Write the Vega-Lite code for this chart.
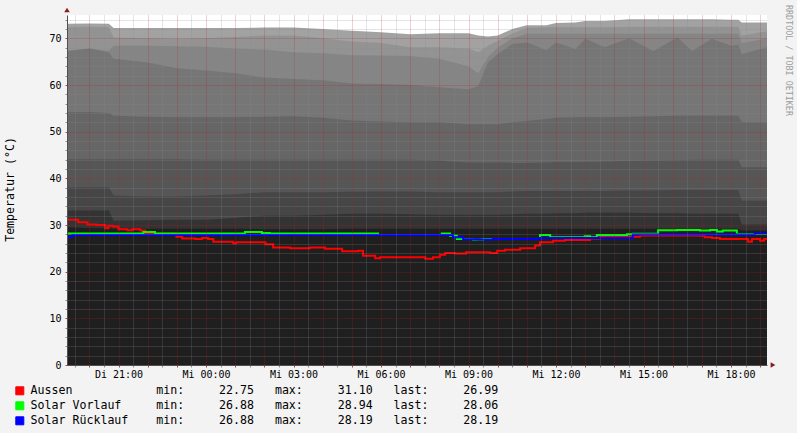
{
  "$schema": "https://vega.github.io/schema/vega-lite/v6.json",
  "width": 700,
  "height": 350,
  "autosize": {"type": "none"},
  "padding": {"left": 67, "top": 15, "right": 30, "bottom": 68},
  "background": "#f3f3f3",
  "config": {"view": {"stroke": null, "fill": "#ffffff"}, "font": "DejaVu Sans Mono"},
  "title": {"text": "RRDTOOL / TOBI OETIKER", "orient": "right", "anchor": "start", "frame": "group", "font": "DejaVu Sans Mono", "fontSize": 8.4, "fontWeight": "normal", "color": "#9c9c9c", "offset": 9, "dx": -10},
  "datasets": {
    "bands": [
      {"t": "2013-07-16T19:14", "A": 73.1, "B": 72.4, "C": 67.3, "D": 67.3, "E": 54.2, "F": 44.1, "G": 38.1, "H": 33.1, "I": 29.5},
      {"t": "2013-07-16T20:00", "A": 73.2, "B": 72.5, "C": 67.8, "D": 67.8, "E": 54.2, "F": 44.1, "G": 38.1, "H": 33.1, "I": 29.3},
      {"t": "2013-07-16T20:40", "A": 73.1, "B": 72.4, "C": 67.3, "D": 67.0, "E": 54.0, "F": 44.1, "G": 38.1, "H": 33.1, "I": 29.3},
      {"t": "2013-07-16T20:50", "A": 72.2, "B": 70.2, "C": 68.4, "D": 65.6, "E": 53.4, "F": 44.1, "G": 36.3, "H": 30.9, "I": 29.2},
      {"t": "2013-07-16T22:00", "A": 72.2, "B": 70.0, "C": 68.4, "D": 64.8, "E": 53.2, "F": 44.1, "G": 36.1, "H": 31.0, "I": 29.2},
      {"t": "2013-07-16T23:00", "A": 72.2, "B": 69.9, "C": 68.3, "D": 63.6, "E": 53.1, "F": 44.1, "G": 36.1, "H": 31.1, "I": 29.2},
      {"t": "2013-07-17T00:00", "A": 72.2, "B": 70.0, "C": 68.2, "D": 63.1, "E": 53.1, "F": 44.0, "G": 36.3, "H": 31.1, "I": 29.2},
      {"t": "2013-07-17T01:00", "A": 72.2, "B": 70.3, "C": 67.8, "D": 62.5, "E": 53.1, "F": 44.0, "G": 36.6, "H": 31.5, "I": 29.2},
      {"t": "2013-07-17T02:00", "A": 72.3, "B": 70.6, "C": 67.6, "D": 61.6, "E": 53.2, "F": 44.0, "G": 37.0, "H": 32.0, "I": 29.1},
      {"t": "2013-07-17T03:00", "A": 72.3, "B": 70.6, "C": 67.0, "D": 61.3, "E": 53.3, "F": 44.0, "G": 37.0, "H": 32.0, "I": 29.1},
      {"t": "2013-07-17T04:00", "A": 72.0, "B": 70.0, "C": 66.8, "D": 61.0, "E": 53.0, "F": 44.0, "G": 37.0, "H": 32.2, "I": 29.1},
      {"t": "2013-07-17T05:00", "A": 71.6, "B": 69.3, "C": 66.4, "D": 60.3, "E": 52.4, "F": 44.0, "G": 37.1, "H": 32.4, "I": 29.2},
      {"t": "2013-07-17T06:00", "A": 71.3, "B": 69.0, "C": 66.3, "D": 60.2, "E": 52.2, "F": 44.0, "G": 37.2, "H": 32.4, "I": 29.2},
      {"t": "2013-07-17T07:00", "A": 70.9, "B": 68.1, "C": 66.2, "D": 60.0, "E": 52.0, "F": 44.0, "G": 37.2, "H": 32.3, "I": 29.2},
      {"t": "2013-07-17T08:00", "A": 71.1, "B": 68.1, "C": 65.6, "D": 59.5, "E": 52.0, "F": 43.8, "G": 37.0, "H": 32.2, "I": 29.2},
      {"t": "2013-07-17T09:00", "A": 71.1, "B": 67.8, "C": 64.0, "D": 59.1, "E": 51.6, "F": 43.4, "G": 37.0, "H": 32.2, "I": 29.2},
      {"t": "2013-07-17T09:20", "A": 70.6, "B": 67.0, "C": 62.5, "D": 59.8, "E": 51.6, "F": 43.4, "G": 37.0, "H": 32.2, "I": 29.2},
      {"t": "2013-07-17T09:40", "A": 70.4, "B": 68.4, "C": 66.0, "D": 64.8, "E": 51.6, "F": 43.4, "G": 37.0, "H": 32.2, "I": 29.2},
      {"t": "2013-07-17T10:00", "A": 70.6, "B": 69.5, "C": 68.0, "D": 66.6, "E": 51.6, "F": 43.4, "G": 37.0, "H": 32.2, "I": 29.2},
      {"t": "2013-07-17T10:30", "A": 72.0, "B": 71.0, "C": 70.0, "D": 68.8, "E": 52.0, "F": 43.3, "G": 37.2, "H": 32.3, "I": 29.2},
      {"t": "2013-07-17T11:00", "A": 72.8, "B": 72.2, "C": 71.0, "D": 69.1, "E": 52.3, "F": 43.3, "G": 37.3, "H": 32.4, "I": 29.2},
      {"t": "2013-07-17T11:40", "A": 72.8, "B": 72.4, "C": 71.0, "D": 67.5, "E": 52.7, "F": 43.4, "G": 37.3, "H": 32.4, "I": 29.2},
      {"t": "2013-07-17T12:00", "A": 73.3, "B": 72.4, "C": 71.0, "D": 69.1, "E": 53.0, "F": 43.5, "G": 37.3, "H": 32.5, "I": 29.2},
      {"t": "2013-07-17T12:40", "A": 73.4, "B": 72.4, "C": 71.0, "D": 67.7, "E": 53.1, "F": 43.5, "G": 37.3, "H": 32.5, "I": 29.2},
      {"t": "2013-07-17T13:00", "A": 73.7, "B": 72.4, "C": 71.0, "D": 69.9, "E": 53.1, "F": 43.5, "G": 37.3, "H": 32.6, "I": 29.2},
      {"t": "2013-07-17T13:40", "A": 73.7, "B": 72.4, "C": 71.0, "D": 68.1, "E": 53.1, "F": 43.6, "G": 37.3, "H": 32.6, "I": 29.2},
      {"t": "2013-07-17T14:30", "A": 74.1, "B": 72.5, "C": 71.0, "D": 70.0, "E": 53.2, "F": 43.7, "G": 37.4, "H": 32.6, "I": 29.2},
      {"t": "2013-07-17T15:20", "A": 74.1, "B": 72.5, "C": 71.0, "D": 67.3, "E": 53.3, "F": 43.8, "G": 37.4, "H": 32.5, "I": 29.2},
      {"t": "2013-07-17T16:10", "A": 74.1, "B": 72.5, "C": 71.0, "D": 70.2, "E": 53.4, "F": 43.9, "G": 37.5, "H": 32.5, "I": 29.2},
      {"t": "2013-07-17T16:40", "A": 74.1, "B": 72.5, "C": 71.0, "D": 67.3, "E": 53.4, "F": 44.0, "G": 37.5, "H": 32.4, "I": 29.2},
      {"t": "2013-07-17T17:20", "A": 74.1, "B": 72.5, "C": 71.0, "D": 69.9, "E": 53.4, "F": 44.0, "G": 37.5, "H": 32.4, "I": 29.2},
      {"t": "2013-07-17T18:00", "A": 74.0, "B": 72.5, "C": 71.0, "D": 68.4, "E": 53.4, "F": 44.0, "G": 37.5, "H": 32.4, "I": 29.2},
      {"t": "2013-07-17T18:15", "A": 74.0, "B": 72.5, "C": 71.0, "D": 68.6, "E": 53.4, "F": 44.0, "G": 37.5, "H": 32.4, "I": 29.2},
      {"t": "2013-07-17T18:22", "A": 73.4, "B": 70.6, "C": 69.0, "D": 66.6, "E": 52.0, "F": 42.4, "G": 35.2, "H": 30.1, "I": 28.8},
      {"t": "2013-07-17T19:14", "A": 73.4, "B": 71.5, "C": 70.0, "D": 68.1, "E": 52.0, "F": 42.4, "G": 35.2, "H": 30.1, "I": 28.8}
    ],
    "lines": [
      {"s": "Aussen", "t": "2013-07-16T19:14", "v": 31.1},
      {"s": "Aussen", "t": "2013-07-16T19:37", "v": 30.6},
      {"s": "Aussen", "t": "2013-07-16T19:56", "v": 30.1},
      {"s": "Aussen", "t": "2013-07-16T20:14", "v": 30.0},
      {"s": "Aussen", "t": "2013-07-16T20:33", "v": 29.3},
      {"s": "Aussen", "t": "2013-07-16T20:39", "v": 29.85},
      {"s": "Aussen", "t": "2013-07-16T20:49", "v": 29.7},
      {"s": "Aussen", "t": "2013-07-16T21:00", "v": 29.1},
      {"s": "Aussen", "t": "2013-07-16T21:18", "v": 28.9},
      {"s": "Aussen", "t": "2013-07-16T21:28", "v": 29.1},
      {"s": "Aussen", "t": "2013-07-16T21:45", "v": 28.8},
      {"s": "Aussen", "t": "2013-07-16T21:55", "v": 28.1},
      {"s": "Aussen", "t": "2013-07-16T22:59", "v": 27.5},
      {"s": "Aussen", "t": "2013-07-16T23:11", "v": 27.1},
      {"s": "Aussen", "t": "2013-07-16T23:38", "v": 27.0},
      {"s": "Aussen", "t": "2013-07-16T23:52", "v": 27.2},
      {"s": "Aussen", "t": "2013-07-17T00:04", "v": 27.0},
      {"s": "Aussen", "t": "2013-07-17T00:15", "v": 26.4},
      {"s": "Aussen", "t": "2013-07-17T00:56", "v": 26.1},
      {"s": "Aussen", "t": "2013-07-17T01:02", "v": 26.3},
      {"s": "Aussen", "t": "2013-07-17T02:02", "v": 25.9},
      {"s": "Aussen", "t": "2013-07-17T02:18", "v": 25.2},
      {"s": "Aussen", "t": "2013-07-17T02:53", "v": 25.0},
      {"s": "Aussen", "t": "2013-07-17T03:34", "v": 25.2},
      {"s": "Aussen", "t": "2013-07-17T04:05", "v": 24.9},
      {"s": "Aussen", "t": "2013-07-17T04:40", "v": 24.4},
      {"s": "Aussen", "t": "2013-07-17T05:13", "v": 24.5},
      {"s": "Aussen", "t": "2013-07-17T05:23", "v": 23.4},
      {"s": "Aussen", "t": "2013-07-17T05:48", "v": 22.9},
      {"s": "Aussen", "t": "2013-07-17T05:58", "v": 23.1},
      {"s": "Aussen", "t": "2013-07-17T07:31", "v": 22.75},
      {"s": "Aussen", "t": "2013-07-17T07:47", "v": 23.1},
      {"s": "Aussen", "t": "2013-07-17T08:01", "v": 23.6},
      {"s": "Aussen", "t": "2013-07-17T08:12", "v": 24.0},
      {"s": "Aussen", "t": "2013-07-17T08:32", "v": 23.9},
      {"s": "Aussen", "t": "2013-07-17T08:55", "v": 24.15},
      {"s": "Aussen", "t": "2013-07-17T09:44", "v": 24.0},
      {"s": "Aussen", "t": "2013-07-17T09:59", "v": 24.5},
      {"s": "Aussen", "t": "2013-07-17T10:15", "v": 24.7},
      {"s": "Aussen", "t": "2013-07-17T10:46", "v": 25.0},
      {"s": "Aussen", "t": "2013-07-17T11:17", "v": 25.6},
      {"s": "Aussen", "t": "2013-07-17T11:27", "v": 26.3},
      {"s": "Aussen", "t": "2013-07-17T11:54", "v": 26.6},
      {"s": "Aussen", "t": "2013-07-17T12:18", "v": 26.8},
      {"s": "Aussen", "t": "2013-07-17T13:10", "v": 27.1},
      {"s": "Aussen", "t": "2013-07-17T13:30", "v": 27.5},
      {"s": "Aussen", "t": "2013-07-17T14:53", "v": 27.75},
      {"s": "Aussen", "t": "2013-07-17T16:56", "v": 27.7},
      {"s": "Aussen", "t": "2013-07-17T17:06", "v": 27.4},
      {"s": "Aussen", "t": "2013-07-17T17:21", "v": 27.2},
      {"s": "Aussen", "t": "2013-07-17T17:37", "v": 27.0},
      {"s": "Aussen", "t": "2013-07-17T18:35", "v": 26.4},
      {"s": "Aussen", "t": "2013-07-17T18:43", "v": 27.0},
      {"s": "Aussen", "t": "2013-07-17T19:00", "v": 26.6},
      {"s": "Aussen", "t": "2013-07-17T19:08", "v": 26.99},
      {"s": "Aussen", "t": "2013-07-17T19:14", "v": 26.99},
      {"s": "Solar Vorlauf", "t": "2013-07-16T19:14", "v": 28.2},
      {"s": "Solar Vorlauf", "t": "2013-07-16T21:51", "v": 28.5},
      {"s": "Solar Vorlauf", "t": "2013-07-16T22:15", "v": 28.2},
      {"s": "Solar Vorlauf", "t": "2013-07-17T01:20", "v": 28.5},
      {"s": "Solar Vorlauf", "t": "2013-07-17T01:55", "v": 28.3},
      {"s": "Solar Vorlauf", "t": "2013-07-17T02:11", "v": 28.2},
      {"s": "Solar Vorlauf", "t": "2013-07-17T05:54", "v": 27.85},
      {"s": "Solar Vorlauf", "t": "2013-07-17T08:05", "v": 28.2},
      {"s": "Solar Vorlauf", "t": "2013-07-17T08:22", "v": 27.7},
      {"s": "Solar Vorlauf", "t": "2013-07-17T08:36", "v": 27.0},
      {"s": "Solar Vorlauf", "t": "2013-07-17T09:09", "v": 26.88},
      {"s": "Solar Vorlauf", "t": "2013-07-17T09:30", "v": 27.0},
      {"s": "Solar Vorlauf", "t": "2013-07-17T11:27", "v": 27.85},
      {"s": "Solar Vorlauf", "t": "2013-07-17T11:48", "v": 27.4},
      {"s": "Solar Vorlauf", "t": "2013-07-17T12:59", "v": 27.6},
      {"s": "Solar Vorlauf", "t": "2013-07-17T13:10", "v": 27.4},
      {"s": "Solar Vorlauf", "t": "2013-07-17T13:24", "v": 27.85},
      {"s": "Solar Vorlauf", "t": "2013-07-17T14:26", "v": 28.0},
      {"s": "Solar Vorlauf", "t": "2013-07-17T14:38", "v": 28.1},
      {"s": "Solar Vorlauf", "t": "2013-07-17T15:30", "v": 28.9},
      {"s": "Solar Vorlauf", "t": "2013-07-17T16:09", "v": 28.94},
      {"s": "Solar Vorlauf", "t": "2013-07-17T16:56", "v": 28.8},
      {"s": "Solar Vorlauf", "t": "2013-07-17T17:17", "v": 28.94},
      {"s": "Solar Vorlauf", "t": "2013-07-17T17:31", "v": 28.6},
      {"s": "Solar Vorlauf", "t": "2013-07-17T17:43", "v": 28.8},
      {"s": "Solar Vorlauf", "t": "2013-07-17T18:12", "v": 28.06},
      {"s": "Solar Vorlauf", "t": "2013-07-17T19:14", "v": 28.06},
      {"s": "Solar Rücklauf", "t": "2013-07-16T19:14", "v": 27.5},
      {"s": "Solar Rücklauf", "t": "2013-07-16T19:25", "v": 27.85},
      {"s": "Solar Rücklauf", "t": "2013-07-17T08:28", "v": 27.4},
      {"s": "Solar Rücklauf", "t": "2013-07-17T08:49", "v": 26.95},
      {"s": "Solar Rücklauf", "t": "2013-07-17T09:20", "v": 26.88},
      {"s": "Solar Rücklauf", "t": "2013-07-17T09:50", "v": 27.0},
      {"s": "Solar Rücklauf", "t": "2013-07-17T11:27", "v": 27.2},
      {"s": "Solar Rücklauf", "t": "2013-07-17T14:38", "v": 27.95},
      {"s": "Solar Rücklauf", "t": "2013-07-17T18:49", "v": 28.19},
      {"s": "Solar Rücklauf", "t": "2013-07-17T19:14", "v": 28.19}
    ]
  },
  "layer": [
    {"data": {"name": "bands"}, "mark": {"type": "area", "color": "#a2a2a2", "opacity": 1},
     "encoding": {
      "x": {
      "field": "t",
      "type": "temporal",
      "scale": {"domain": [{"year": 2013, "month": 7, "date": 16, "hours": 19, "minutes": 14}, {"year": 2013, "month": 7, "date": 17, "hours": 19, "minutes": 14}], "nice": false},
      "axis": {
        "title": null,
        "tickCount": 48,
        "labelExpr": "minutes(datum.value) == 0 && hours(datum.value) % 3 == 0 ? (date(datum.value) == 16 ? 'Di ' : 'Mi ') + timeFormat(datum.value, '%H:%M') : ''",
        "labelFont": "DejaVu Sans Mono",
        "labelFontSize": 10,
        "labelColor": "#000000",
        "labelPadding": 2,
        "labelOverlap": false,
        "labelFlush": false,
        "tickSize": 2,
        "tickColor": {"condition": {"test": "minutes(datum.value) == 0", "value": "#c04040"}, "value": "#909090"},
        "gridColor": {"condition": {"test": "minutes(datum.value) == 0", "value": "rgba(180,32,32,0.42)"}, "value": "rgba(140,140,140,0.45)"},
        "gridDash": [1, 1],
        "domainColor": "#505050",
        "zindex": 1
      }},
      "y": {"field": "A", "type": "quantitative", "scale": {"domain": [0, 75], "nice": false},
       "axis": {
         "title": "Temperatur (°C)",
         "tickCount": 40,
         "values": [0, 2, 4, 6, 8, 10, 12, 14, 16, 18, 20, 22, 24, 26, 28, 30, 32, 34, 36, 38, 40, 42, 44, 46, 48, 50, 52, 54, 56, 58, 60, 62, 64, 66, 68, 70, 72, 74],
         "labelExpr": "datum.value % 10 == 0 ? datum.label : ''",
         "labelFont": "DejaVu Sans Mono",
         "labelFontSize": 10,
         "labelColor": "#000000",
         "labelPadding": 4,
         "labelOverlap": false,
         "tickSize": 2,
         "tickColor": {"condition": {"test": "datum.value % 10 == 0", "value": "#c04040"}, "value": "#909090"},
         "gridColor": {"condition": {"test": "datum.value % 10 == 0", "value": "rgba(180,32,32,0.42)"}, "value": "rgba(140,140,140,0.45)"},
         "gridDash": [1, 1],
         "domainColor": "#505050",
         "titleFont": "DejaVu Sans Mono",
         "titleFontSize": 11.6,
         "titleFontWeight": "normal",
         "titleColor": "#000000",
         "titleX": -57,
         "titleY": 174,
         "titleBaseline": "middle",
         "zindex": 1
       }}}},
    {"data": {"name": "bands"}, "mark": {"type": "area", "color": "#939393", "opacity": 1}, "encoding": {"x": {"field": "t", "type": "temporal"}, "y": {"field": "B", "type": "quantitative"}}},
    {"data": {"name": "bands"}, "mark": {"type": "area", "color": "#858585", "opacity": 1}, "encoding": {"x": {"field": "t", "type": "temporal"}, "y": {"field": "C", "type": "quantitative"}}},
    {"data": {"name": "bands"}, "mark": {"type": "area", "color": "#767676", "opacity": 1}, "encoding": {"x": {"field": "t", "type": "temporal"}, "y": {"field": "D", "type": "quantitative"}}},
    {"data": {"name": "bands"}, "mark": {"type": "area", "color": "#666666", "opacity": 1}, "encoding": {"x": {"field": "t", "type": "temporal"}, "y": {"field": "E", "type": "quantitative"}}},
    {"data": {"name": "bands"}, "mark": {"type": "area", "color": "#565656", "opacity": 1}, "encoding": {"x": {"field": "t", "type": "temporal"}, "y": {"field": "F", "type": "quantitative"}}},
    {"data": {"name": "bands"}, "mark": {"type": "area", "color": "#464646", "opacity": 1}, "encoding": {"x": {"field": "t", "type": "temporal"}, "y": {"field": "G", "type": "quantitative"}}},
    {"data": {"name": "bands"}, "mark": {"type": "area", "color": "#333333", "opacity": 1}, "encoding": {"x": {"field": "t", "type": "temporal"}, "y": {"field": "H", "type": "quantitative"}}},
    {"data": {"name": "bands"}, "mark": {"type": "area", "color": "#1f1f1f", "opacity": 1}, "encoding": {"x": {"field": "t", "type": "temporal"}, "y": {"field": "I", "type": "quantitative"}}},
    {"data": {"name": "lines"}, "transform": [{"filter": "datum.s == 'Aussen'"}],
     "mark": {"type": "line", "interpolate": "step-after", "strokeWidth": 2},
     "encoding": {
       "x": {"field": "t", "type": "temporal"},
       "y": {"field": "v", "type": "quantitative"},
       "color": {"field": "s", "type": "nominal",
         "scale": {"domain": ["Aussen", "Solar Vorlauf", "Solar Rücklauf"], "range": ["#ff0000", "#00ff00", "#0000ff"]},
         "legend": {
           "orient": "none", "legendX": -53, "legendY": 370, "title": null, "padding": 0, "direction": "vertical",
           "symbolType": "square", "symbolSize": 64, "symbolStrokeColor": "#000000", "symbolStrokeWidth": 1,
           "labelFont": "DejaVu Sans Mono", "labelFontSize": 11.6, "labelColor": "#000000", "labelOffset": 5, "labelLimit": 800, "rowPadding": 2,
           "labelExpr": "datum.label == 'Aussen' ? 'Aussen\u00a0\u00a0\u00a0\u00a0\u00a0\u00a0\u00a0\u00a0\u00a0\u00a0\u00a0\u00a0min:\u00a0\u00a0\u00a0\u00a0\u00a022.75\u00a0\u00a0\u00a0max:\u00a0\u00a0\u00a0\u00a0\u00a031.10\u00a0\u00a0\u00a0last:\u00a0\u00a0\u00a0\u00a0\u00a026.99' : datum.label == 'Solar Vorlauf' ? 'Solar\u00a0Vorlauf\u00a0\u00a0\u00a0\u00a0\u00a0min:\u00a0\u00a0\u00a0\u00a0\u00a026.88\u00a0\u00a0\u00a0max:\u00a0\u00a0\u00a0\u00a0\u00a028.94\u00a0\u00a0\u00a0last:\u00a0\u00a0\u00a0\u00a0\u00a028.06' : 'Solar\u00a0Rücklauf\u00a0\u00a0\u00a0\u00a0min:\u00a0\u00a0\u00a0\u00a0\u00a026.88\u00a0\u00a0\u00a0max:\u00a0\u00a0\u00a0\u00a0\u00a028.19\u00a0\u00a0\u00a0last:\u00a0\u00a0\u00a0\u00a0\u00a028.19'",
           "encode": {"symbols": {"update": {"fill": {"scale": "color", "field": "value"}, "fillOpacity": {"value": 1}, "stroke": {"value": "#000000"}, "strokeWidth": {"value": 1}}}}
         }}}},
    {"data": {"name": "lines"}, "transform": [{"filter": "datum.s == 'Solar Vorlauf'"}],
     "mark": {"type": "line", "interpolate": "step-after", "strokeWidth": 2},
     "encoding": {"x": {"field": "t", "type": "temporal"}, "y": {"field": "v", "type": "quantitative"}, "color": {"field": "s", "type": "nominal", "legend": null}}},
    {"data": {"name": "lines"}, "transform": [{"filter": "datum.s == 'Solar Rücklauf'"}],
     "mark": {"type": "line", "interpolate": "step-after", "strokeWidth": 2},
     "encoding": {"x": {"field": "t", "type": "temporal"}, "y": {"field": "v", "type": "quantitative"}, "color": {"field": "s", "type": "nominal", "legend": null}}},
    {"data": {"values": [{"a": 1}]},
     "mark": {"type": "point", "shape": "triangle-up", "filled": true, "color": "#8b1a1a", "size": 30, "opacity": 1, "yOffset": -5},
     "encoding": {"x": {"datum": {"year": 2013, "month": 7, "date": 16, "hours": 19, "minutes": 14}, "type": "temporal"}, "y": {"datum": 75, "type": "quantitative"}}},
    {"data": {"values": [{"a": 1}]},
     "mark": {"type": "point", "shape": "triangle-right", "filled": true, "color": "#8b1a1a", "size": 30, "opacity": 1, "xOffset": 6},
     "encoding": {"x": {"datum": {"year": 2013, "month": 7, "date": 17, "hours": 19, "minutes": 14}, "type": "temporal"}, "y": {"datum": 0, "type": "quantitative"}}}
  ]
}
